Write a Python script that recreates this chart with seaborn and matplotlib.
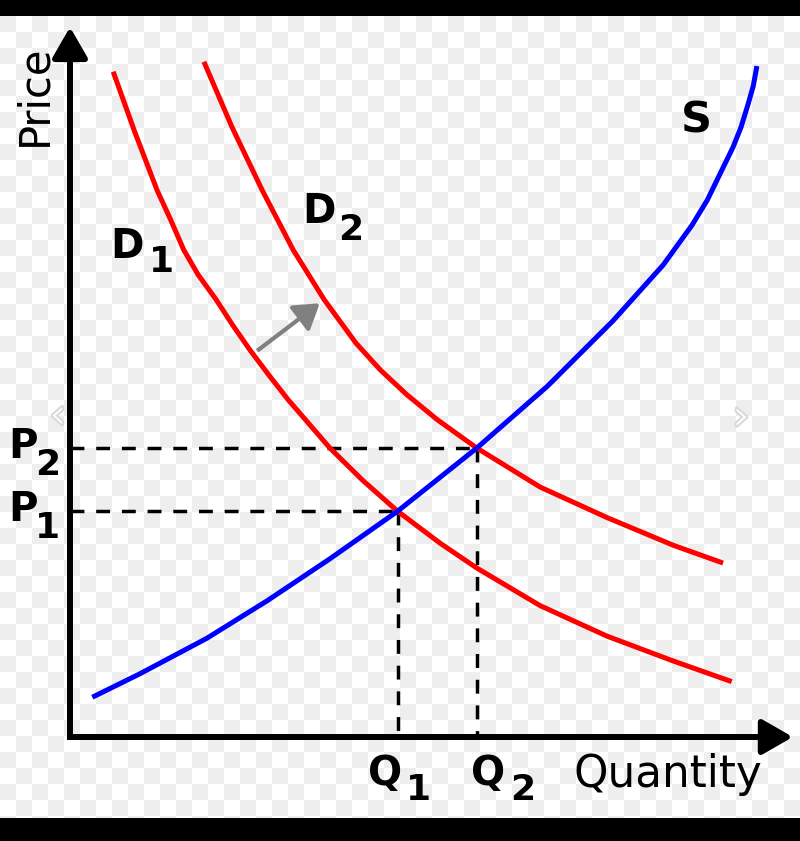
import matplotlib
matplotlib.use("Agg")
import matplotlib.pyplot as plt
import matplotlib.patheffects as pe
import seaborn as sns
import numpy as np

# supply curve (quantity, price)
q_s = [0.31, 0.97, 1.90, 2.74, 3.61, 4.55, 5.65, 6.63, 7.54, 8.24, 8.64, 8.85,
       9.21, 9.32, 9.42, 9.49, 9.54]
p_s = [0.56, 0.89, 1.39, 1.92, 2.51, 3.18, 4.07, 4.94, 5.86, 6.65, 7.21, 7.56,
       8.31, 8.59, 8.92, 9.17, 9.45]

# original demand
q_d1 = [0.60, 0.90, 1.21, 1.40, 1.58, 1.78, 2.03, 2.26, 2.50, 2.76, 3.03, 3.32,
        3.61, 4.06, 4.55, 5.14, 5.65, 6.53, 7.46, 8.38, 9.19]
p_d1 = [9.37, 8.52, 7.70, 7.28, 6.86, 6.51, 6.16, 5.80, 5.45, 5.10, 4.75, 4.41,
        4.07, 3.62, 3.18, 2.73, 2.38, 1.85, 1.42, 1.07, 0.78]

# shifted demand
q_d2 = [1.86, 2.25, 2.67, 3.10, 3.53, 3.97, 4.31, 4.68, 5.10, 5.65, 6.53, 7.46,
        8.38, 9.07]
p_d2 = [9.51, 8.59, 7.70, 6.86, 6.16, 5.55, 5.17, 4.82, 4.47, 4.07, 3.52, 3.09,
        2.70, 2.45]

# equilibria
q_eq = [4.55, 5.65]
p_eq = [3.18, 4.07]
eq_subs = ["1", "2"]

# shift arrow
shift_from = (2.60, 5.44)
shift_to = (3.47, 6.11)

W, H = 800, 841
fig = plt.figure(figsize=(W / 100, H / 100), dpi=100)

# checkerboard background with black bars
cell = 16
yy, xx = np.indices((H, W))
board = ((yy // cell + xx // cell) % 2).astype(float)
img = np.where(board[..., None] > 0, 0.937, 1.0) * np.ones((H, W, 3))
img[:16] = 0
img[818:] = 0
fig.figimage(img, 0, 0, zorder=-10)

ax = fig.add_axes([0, 0, 1, 1])
ax.patch.set_alpha(0)
ax.set_xlim(-70 / 72, 730 / 72)
ax.set_ylim((737 - 841) / 71, 737 / 71)
ax.axis("off")

# axes with arrows
axis_arrow = dict(arrowstyle="-|>,head_length=0.47,head_width=0.27", lw=4.3,
                  color="black", shrinkA=0, shrinkB=0, mutation_scale=40,
                  capstyle="butt")
ax.annotate("", xy=(0, 10.0), xytext=(0, -0.042), arrowprops=axis_arrow)
ax.annotate("", xy=(10.04, 0), xytext=(-0.042, 0), arrowprops=axis_arrow)

# dashed guides
for q, p in zip(q_eq, p_eq):
    ax.plot([0, q], [p, p], color="black", lw=2.5, linestyle=(0, (4, 3.4)), zorder=2)
    ax.plot([q, q], [p, 0], color="black", lw=2.5, linestyle=(0, (4, 3.4)), zorder=2)

sns.lineplot(x=q_d1, y=p_d1, color="#ff0000", linewidth=3.6, sort=False, ax=ax,
             solid_capstyle="butt", solid_joinstyle="round", zorder=3)
sns.lineplot(x=q_d2, y=p_d2, color="#ff0000", linewidth=3.6, sort=False, ax=ax,
             solid_capstyle="butt", solid_joinstyle="round", zorder=3)
sns.lineplot(x=q_s, y=p_s, color="#0000ff", linewidth=3.6, sort=False, ax=ax,
             solid_capstyle="butt", solid_joinstyle="round", zorder=4)

ax.annotate("", xy=shift_to, xytext=shift_from,
            arrowprops=dict(arrowstyle="-|>,head_length=0.5,head_width=0.32", lw=3,
                            color="#808080", shrinkA=0, shrinkB=0, mutation_scale=30,
                            capstyle="butt"))

bold = dict(fontweight="bold", color="black", family="DejaVu Sans",
            ha="left", va="baseline")
ax.text(8.49, 8.52, "S", fontsize=31, **bold)
ax.text(0.56, 6.75, "D", fontsize=29, **bold)
ax.text(1.09, 6.55, "1", fontsize=26, **bold)
ax.text(3.22, 7.24, "D", fontsize=29, **bold)
ax.text(3.73, 7.00, "2", fontsize=26, **bold)

q_label_x = [4.14, 5.57]
q_sub_x = [4.66, 6.11]
for q_x, sub_x, p, s in zip(q_label_x, q_sub_x, p_eq, eq_subs):
    ax.text(-0.86, p - 0.14, "P", fontsize=29, **bold)
    ax.text(-0.49, p - 0.38, s, fontsize=26, **bold)
    ax.text(q_x, -0.68, "Q", fontsize=29, **bold)
    ax.text(sub_x, -0.89, s, fontsize=26, **bold)

ax.text(-0.49, 9.04, "Price", fontsize=30, rotation=90, ha="center", va="center",
        family="DejaVu Sans")
ax.text(6.99, -0.70, "Quantity", fontsize=31.5, ha="left", va="baseline",
        family="DejaVu Sans")

# faint gallery chevrons from the screenshot
chevron = dict(fontsize=30, color="white", ha="center", va="center",
               family="DejaVu Sans", fontweight="light", zorder=1,
               path_effects=[pe.withStroke(linewidth=3, foreground="#d9d9d9")])
ax.text(-0.17, 4.53, "‹", **chevron)
ax.text(9.33, 4.51, "›", **chevron)

fig.savefig("out.png", dpi=100)
plt.close(fig)
